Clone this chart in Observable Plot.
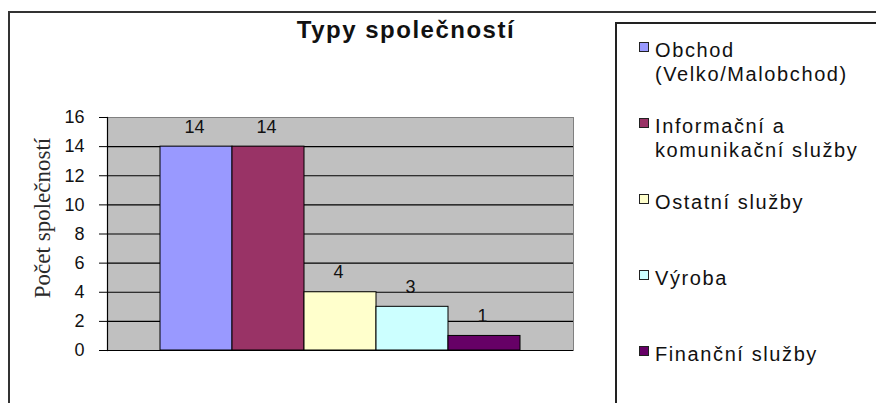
<!DOCTYPE html>
<html><head><meta charset="utf-8">
<script src="https://cdn.jsdelivr.net/npm/d3@7"></script>
<script src="https://cdn.jsdelivr.net/npm/@observablehq/plot@0.6"></script>
<style>
body{margin:0;background:#fff;}
#wrap{position:relative;width:876px;height:403px;overflow:hidden;font-family:"Liberation Sans",Arial,sans-serif;background:#fff;}
#chart{position:absolute;left:0;top:0;}
#outer{position:absolute;left:8px;top:11px;width:1000px;height:600px;border-top:2px solid #333;border-left:2px solid #333;}
#title{position:absolute;left:0;width:812px;top:18px;text-align:center;font-weight:bold;font-size:24px;line-height:24px;letter-spacing:1.5px;color:#111;white-space:nowrap;}
#legend{position:absolute;left:615px;top:22px;width:400px;height:600px;border:2px solid #222;background:#fff;box-sizing:border-box;padding-top:14px;}
.item{display:flex;align-items:flex-start;height:76px;padding-left:22px;}
.mk{width:10px;height:10px;box-sizing:border-box;border:1px solid #222;margin-top:4px;margin-right:6px;flex:none;}
.lt{font-size:20px;line-height:24px;letter-spacing:1.6px;width:214px;color:#111;}
</style>
</head><body>
<div id="wrap">
  <div id="outer"></div>
  <div id="chart"></div>
  <div id="title"></div>
  <div id="legend"></div>
</div>
<script>
const title = "Typy společností";
const yLabel = "Počet společností";
const categories = ["Obchod (Velko/Malobchod)", "Informační a komunikační služby", "Ostatní služby", "Výroba", "Finanční služby"];
const values = [14, 14, 4, 3, 1];
const colors = ["#9999ff", "#993366", "#ffffcc", "#ccffff", "#660066"];
const yTicks = [0, 2, 4, 6, 8, 10, 12, 14, 16];

const data = categories.map((c, i) => ({cat: c, value: values[i]}));

const chart = Plot.plot({
  width: 876, height: 403,
  marginLeft: 107, marginRight: 303, marginTop: 117, marginBottom: 53,
  style: {fontFamily: '"Liberation Sans", Arial, sans-serif', fontSize: "18px", color: "#111", background: "transparent", overflow: "visible"},
  x: {domain: categories, paddingInner: 0, paddingOuter: 0.736, axis: null},
  y: {domain: [0, 16]},
  color: {domain: categories, range: colors},
  marks: [
    Plot.frame({fill: "#c0c0c0", stroke: "#808080"}),
    Plot.ruleY(yTicks.filter(d => d > 0 && d < 16), {stroke: "#000", strokeWidth: 1.2}),
    Plot.ruleY([0], {stroke: "#000", strokeWidth: 1.2}),
    Plot.frame({anchor: "left", stroke: "#000", strokeWidth: 1.2}),
    Plot.axisY({ticks: yTicks, tickSize: 8, tickPadding: 15, label: null, fontSize: 18, stroke: "#000", fill: "#111", tickFormat: d => String(d)}),
    Plot.barY(data, {x: "cat", y: "value", fill: "cat", stroke: "#000", strokeWidth: 1}),
    Plot.text(data, {x: "cat", y: "value", text: d => String(d.value), dy: -14, dx: -2, lineAnchor: "bottom", fontSize: 18, fill: "#111"}),
    Plot.text([yLabel], {frameAnchor: "left", textAnchor: "middle", lineAnchor: "middle", rotate: -90, dx: -65, dy: -16, fontFamily: '"Liberation Serif", "Times New Roman", serif', fontSize: 23, fill: "#2a2a2a"})
  ]
});
document.getElementById("chart").appendChild(chart);
document.getElementById("title").textContent = title;

const legend = document.getElementById("legend");
categories.forEach((c, i) => {
  const it = document.createElement("div");
  it.className = "item";
  const mk = document.createElement("div");
  mk.className = "mk";
  mk.style.background = colors[i];
  const lt = document.createElement("div");
  lt.className = "lt";
  lt.textContent = c;
  it.appendChild(mk); it.appendChild(lt);
  legend.appendChild(it);
});
</script>
</body></html>
